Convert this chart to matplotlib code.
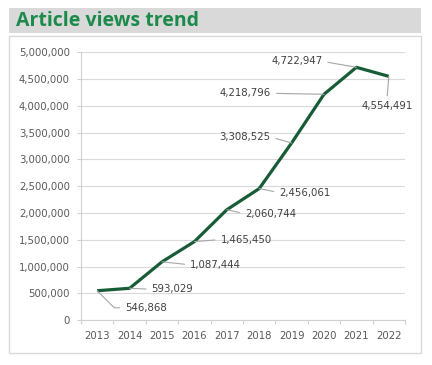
import matplotlib
matplotlib.use("Agg")
import matplotlib.pyplot as plt
from matplotlib.patches import Rectangle
from matplotlib.ticker import FuncFormatter, FixedLocator

years = ["2013", "2014", "2015", "2016", "2017", "2018", "2019", "2020", "2021", "2022"]
views = [546868, 593029, 1087444, 1465450, 2060744, 2456061, 3308525, 4218796, 4722947, 4554491]
title = "Article views trend"

# label offsets (pixels) and alignment per point
label_offsets = [(28, -17, "left"), (22, -1, "left"), (28, -3, "left"), (26, 2, "left"),
                 (18, -4, "left"), (20, -4, "left"), (-21, 6, "right"), (-53, 1, "right"),
                 (-34, 6, "right"), (-2, -25, "center")]

W, H = 432, 365
fig = plt.figure(figsize=(W / 100, H / 100), dpi=100)
fig.patch.set_facecolor("white")

# outer chart box and title banner
fig.patches.append(Rectangle((9 / W, (H - 353) / H), (421 - 9) / W, (353 - 36) / H,
                             transform=fig.transFigure, facecolor="white",
                             edgecolor="#d9d9d9", lw=1.0, zorder=-10))
fig.patches.append(Rectangle((9 / W, (H - 33) / H), (421 - 9) / W, (33 - 8) / H,
                             transform=fig.transFigure, facecolor="#d9d9d9",
                             edgecolor="none", zorder=-10))
fig.text(16 / W, (H - 21) / H, title, fontsize=14, fontweight="bold",
         family="Open Sans", color="#1b8a4b", va="center", ha="left")

ax = fig.add_axes([81 / W, (H - 320) / H, (405 - 81) / W, (320 - 52.5) / H])
ax.set_zorder(1)
ax.set_facecolor("none")
x = list(range(len(years)))
ax.plot(x, views, color="#185c37", lw=2.3, solid_capstyle="butt", zorder=3)

ax.set_xlim(-0.5, len(years) - 0.5)
ax.set_ylim(0, 5_000_000)
ax.set_yticks(range(0, 5_000_001, 500_000))
ax.yaxis.set_major_formatter(FuncFormatter(lambda v, p: f"{int(v):,}"))
ax.set_xticks(x)
ax.set_xticklabels(years)
ax.xaxis.set_minor_locator(FixedLocator([i - 0.5 for i in range(len(years) + 1)]))
ax.grid(axis="y", color="#d9d9d9", lw=0.8, zorder=0)
ax.set_axisbelow(True)
for s in ["top", "right"]:
    ax.spines[s].set_visible(False)
for s in ["left", "bottom"]:
    ax.spines[s].set_color("#d0d0d0")
    ax.spines[s].set_linewidth(0.8)
ax.tick_params(axis="y", length=3, width=0.8, color="#d0d0d0", labelsize=7.3,
               labelcolor="#595959", pad=5)
ax.tick_params(axis="x", which="major", length=0, labelsize=7.3, labelcolor="#595959", pad=8)
ax.tick_params(axis="x", which="minor", length=3, width=0.8, color="#d0d0d0")
for lab in ax.get_xticklabels() + ax.get_yticklabels():
    lab.set_family("DejaVu Sans")

for i, (v, (dx, dy, ha)) in enumerate(zip(views, label_offsets)):
    relpos = {"left": (0, 0.5), "right": (1, 0.5), "center": (0.5, 1)}[ha]
    conn = "angle,angleA=0,angleB=-45,rad=0" if i == 0 else "arc3"
    ax.annotate(f"{v:,}", xy=(i, v), xytext=(dx, dy), textcoords="offset pixels",
                ha=ha, va="center" if ha != "center" else "top",
                fontsize=7.3, color="#404040", family="DejaVu Sans",
                arrowprops=dict(arrowstyle="-", color="#a6a6a6", lw=0.8,
                                shrinkA=2, shrinkB=0, relpos=relpos,
                                connectionstyle=conn), zorder=4)

fig.savefig("out.png", dpi=100)
